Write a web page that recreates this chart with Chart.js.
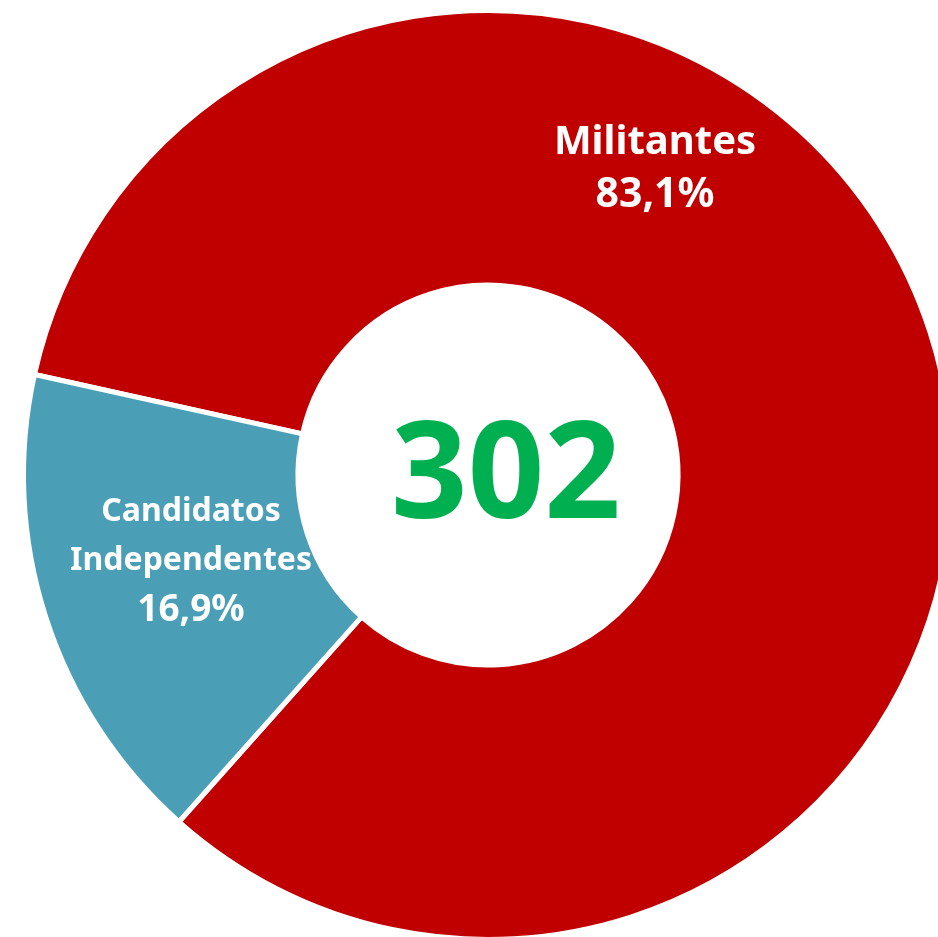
<!DOCTYPE html>
<html>
<head>
<meta charset="utf-8">
<script src="https://cdn.jsdelivr.net/npm/chart.js@4.4.0/dist/chart.umd.min.js"></script>
<style>
  html, body { margin: 0; padding: 0; background: #fff; overflow: hidden; width: 938px; height: 937px; }
  #donut { position: absolute; left: 8px; top: -5px; }
</style>
</head>
<body>
<canvas id="donut" width="964" height="960"></canvas>
<script>
const categories = ["Militantes", "Candidatos Independentes"];
const labelLines = [["Militantes"], ["Candidatos", "Independentes"]];
const counts = [251, 51];
const total = 302;
const colors = ["#C00000", "#4A9FB6"];

// white text labels inside the ring + total in the hole
const donutText = {
  id: 'donutText',
  afterDraw(chart, args, opts) {
    const ctx = chart.ctx;
    const arc = chart.getDatasetMeta(0).data[0];
    const cx = arc.x, cy = arc.y;
    ctx.save();
    ctx.textAlign = 'center';
    ctx.textBaseline = 'middle';
    ctx.fillStyle = '#fff';
    opts.places.forEach(function (p, i) {
      const pct = (counts[i] / total * 100).toFixed(1).replace('.', ',') + '%';
      const lines = labelLines[i].concat([pct]);
      const y0 = cy + p.dy - (lines.length - 1) * p.lh / 2;
      lines.forEach(function (t, k) {
        const sz = k === lines.length - 1 ? p.pctSize : p.size;
        ctx.font = 'bold ' + sz + 'px "Noto Sans"';
        ctx.fillText(t, cx + p.dx, y0 + k * p.lh);
      });
    });
    ctx.fillStyle = '#00B050';
    ctx.font = 'bold 134px "Noto Sans"';
    ctx.fillText(String(total), cx + 18, cy + 5);
    ctx.restore();
  }
};

new Chart(document.getElementById("donut"), {
  type: 'doughnut',
  data: {
    labels: categories,
    datasets: [{
      data: counts,
      backgroundColor: colors,
      borderColor: '#fff',
      borderWidth: 5
    }]
  },
  options: {
    responsive: false,
    animation: false,
    rotation: 282.5,
    cutout: 190,
    layout: { padding: { left: 13, right: 17, top: 13, bottom: 13 } },
    plugins: {
      legend: { display: false },
      tooltip: { enabled: false },
      donutText: {
        places: [
          { dx: 167, dy: -306, size: 40, pctSize: 41, lh: 52 },
          { dx: -297, dy: 86, size: 32, pctSize: 37, lh: 49 }
        ]
      }
    }
  },
  plugins: [donutText]
});
</script>
</body>
</html>
